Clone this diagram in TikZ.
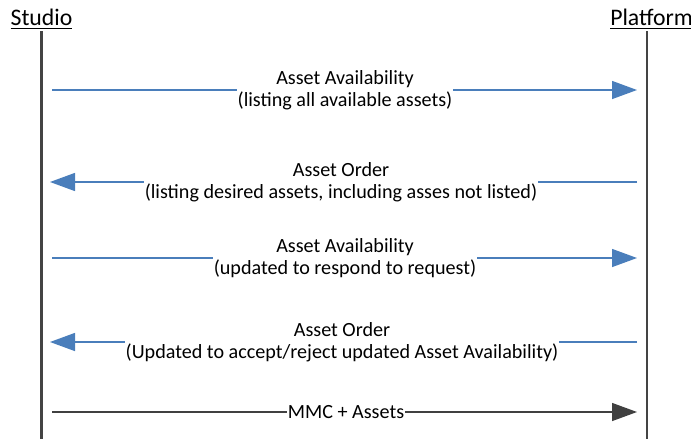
\documentclass[tikz,border=0pt]{standalone}
\usepackage{fontspec}
\setmainfont{Carlito}
\usetikzlibrary{arrows.meta}

\begin{document}
\begin{tikzpicture}[x=0.75pt,y=0.75pt,yscale=-1,xscale=1,
  lifeline/.style={color={rgb, 255:red, 68; green, 68; blue, 68}, line width=1.6pt},
  msgline/.style={color={rgb, 255:red, 74; green, 126; blue, 187}, line width=1pt},
  msgtip/.style={msgline, -{Triangle[length=18.75pt,width=13.5pt]}},
  mmcline/.style={color={rgb, 255:red, 64; green, 64; blue, 64}, line width=1pt},
  mmctip/.style={mmcline, -{Triangle[length=18.75pt,width=13.5pt]}},
  msglabel/.style={inner sep=0.5pt, align=center, font=\fontsize{15.1}{16.6}\selectfont},
  header/.style={inner sep=0pt, font=\fontsize{17.8}{20}\selectfont}
]
%set diagram size
\useasboundingbox (0,0) rectangle (691,439);

% Headers
\node [header, anchor=base] (studio) at (41.5,26) {\underline{Studio}};
\node [header, anchor=base west] (platform) at (610,26) {\underline{Platform}};

%Lifelines
\coordinate (sTop) at (41.5,31);
\coordinate (sBot) at (41.5,439);
\coordinate (pTop) at (647,31);
\coordinate (pBot) at (647,439);
\draw [lifeline] (sTop) -- (sBot);
\draw [lifeline] (pTop) -- (pBot);

%Message ends
\coordinate (s1) at (52,90);   \coordinate (p1) at (637,90);
\coordinate (s2) at (50,182);  \coordinate (p2) at (637,182);
\coordinate (s3) at (52,258);  \coordinate (p3) at (637,258);
\coordinate (s4) at (50,342);  \coordinate (p4) at (637,342);
\coordinate (s5) at (52,412);  \coordinate (p5) at (637,412);

% Text Node
\node [msglabel] (avail1) at (345,90) {Asset Availability\\(listing all available assets)};
% Text Node
\node [msglabel] (order1) at (341,182) {Asset Order\\(listing desired assets, including asses not listed)};
% Text Node
\node [msglabel] (avail2) at (345,258) {Asset Availability\\(updated to respond to request)};
% Text Node
\node [msglabel] (order2) at (342,342) {Asset Order\\(Updated to accept/reject updated Asset Availability)};
% Text Node
\node [msglabel] (mmc) at (346,412) {MMC + Assets};

%Straight Lines
\draw [msgline] (s1) -- (avail1.west);
\draw [msgtip] (avail1.east) -- (p1);
\draw [msgline] (p2) -- (order1.east);
\draw [msgtip] (order1.west) -- (s2);
\draw [msgline] (s3) -- (avail2.west);
\draw [msgtip] (avail2.east) -- (p3);
\draw [msgline] (p4) -- (order2.east);
\draw [msgtip] (order2.west) -- (s4);
\draw [mmcline] (s5) -- (mmc.west);
\draw [mmctip] (mmc.east) -- (p5);

\end{tikzpicture}
\end{document}
